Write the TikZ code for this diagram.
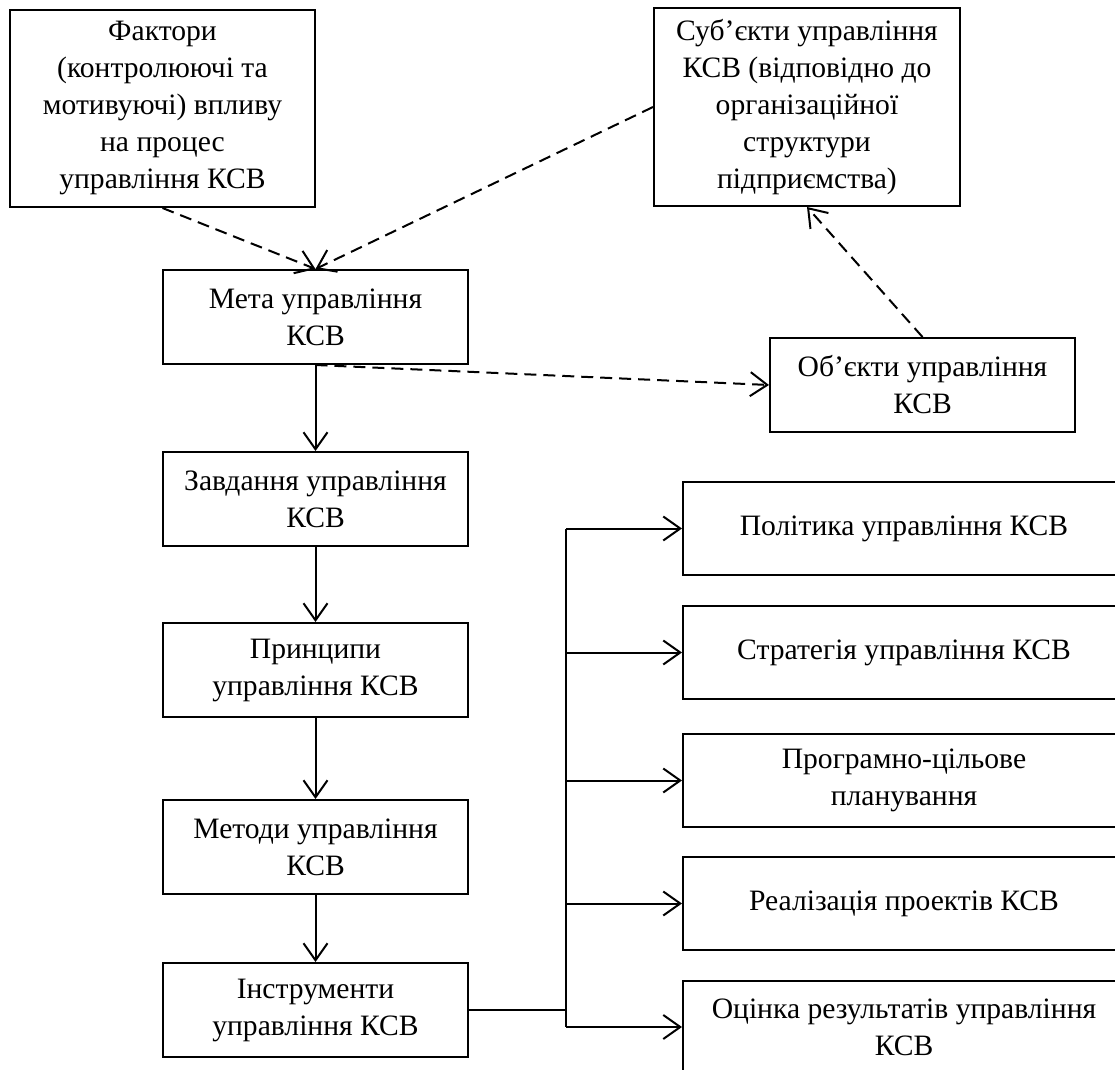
\documentclass[tikz,border=0pt]{standalone}
\usepackage{fontspec}
\setmainfont{Liberation Serif}
\usetikzlibrary{arrows.meta}
\begin{document}
\begin{tikzpicture}[x=0.5pt,y=-0.5pt,
  box/.style={draw=black,line width=1pt,inner sep=0pt,align=center,
    font=\fontsize{14.8}{18.5}\selectfont},
  lbox/.style={box,minimum width=152.5pt,minimum height=47pt},
  rbox/.style={box,minimum width=221pt,minimum height=46.5pt},
  arr/.style={line width=1pt,-{Straight Barb[length=8.5pt,width=12pt,line width=1pt]}},
  darr/.style={arr,dash pattern=on 6pt off 3.5pt},
  link/.style={line width=1pt}]
\fill[white] (0,0) rectangle (1115,1070);
\useasboundingbox (0,0) rectangle (1115,1070);
% top boxes
\node[box,minimum width=152.5pt,minimum height=98.5pt] (fact) at (162.5,108.5)
  {Фактори\\(контролюючі та\\мотивуючі) впливу\\на процес\\управління КСВ};
\node[box,minimum width=153pt,minimum height=99pt] (subj) at (807,107)
  {Суб’єкти управління\\КСВ (відповідно до\\організаційної\\структури\\підприємства)};
% left column
\node[lbox] (meta)  at (315.5,317)  {Мета управління\\КСВ};
\node[lbox] (obj)   at (922.5,385)  {Об’єкти управління\\КСВ};
\node[lbox] (zavd)  at (315.5,499)  {Завдання управління\\КСВ};
\node[lbox] (prin)  at (315.5,670)  {Принципи\\управління КСВ};
\node[lbox] (meth)  at (315.5,847)  {Методи управління\\КСВ};
\node[lbox] (instr) at (315.5,1010) {Інструменти\\управління КСВ};
% right column
\node[rbox] (pol)  at (904,528.5) {Політика управління КСВ};
\node[rbox] (strat) at (904,652.5) {Стратегія управління КСВ};
\node[rbox] (prog) at (904,780.5) {Програмно-цільове\\планування};
\node[rbox] (impl) at (904,903.5) {Реалізація проектів КСВ};
\node[rbox] (eval) at (904,1027)  {Оцінка результатів управління\\КСВ};
\coordinate (bus) at (566,1010);
% dashed connectors
\draw[darr] (fact.south) -- (meta.north);
\draw[darr] (subj.west) -- (meta.north);
\draw[darr] (meta.south) -- (obj.west);
\draw[darr] (obj.north) -- (subj.south);
% solid chain
\draw[arr] (meta.south) -- (zavd.north);
\draw[arr] (zavd.south) -- (prin.north);
\draw[arr] (prin.south) -- (meth.north);
\draw[arr] (meth.south) -- (instr.north);
% bus
\draw[link] (instr.east) -- (bus);
\draw[link] (bus |- pol.west) -- (bus |- eval.west);
\draw[arr] (bus |- pol.west) -- (pol.west);
\draw[arr] (bus |- strat.west) -- (strat.west);
\draw[arr] (bus |- prog.west) -- (prog.west);
\draw[arr] (bus |- impl.west) -- (impl.west);
\draw[arr] (bus |- eval.west) -- (eval.west);
\end{tikzpicture}
\end{document}
